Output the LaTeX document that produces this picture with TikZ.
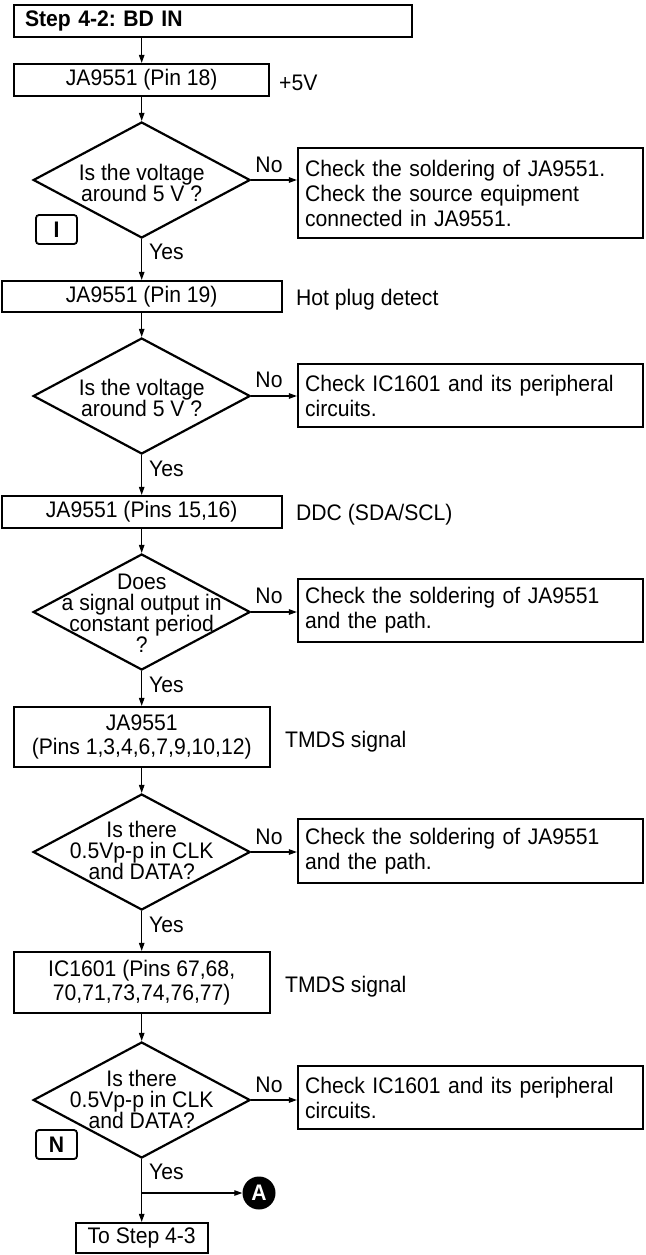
\documentclass[tikz,border=0pt]{standalone}
\usepackage{fontspec}
\setmainfont{Liberation Sans}[FakeStretch=0.94]
\usetikzlibrary{arrows.meta,shapes.geometric}
\frenchspacing
\begin{document}
\frenchspacing
\begin{tikzpicture}[x=1pt,y=-1pt,
  box/.style={draw, line width=2.2pt, inner sep=0pt, align=center, font=\fontsize{22.5}{24}\selectfont},
  dia/.style={draw, diamond, line width=2.2pt, inner sep=0pt, minimum width=217pt, minimum height=116pt},
  dtext/.style={align=center, inner sep=0pt, font=\fontsize{22.5}{21}\selectfont},
  lab/.style={inner sep=0pt, font=\fontsize{22.5}{25}\selectfont},
  nbox/.style={draw, line width=2.2pt, minimum width=345pt, text width=331pt, align=left, inner xsep=7pt, inner ysep=0pt, font=\fontsize{22.5}{25}\selectfont},
  conn/.style={line width=1.1pt, -{Triangle[length=8pt,width=5.5pt]}},
  tag/.style={draw, line width=1.8pt, rounded corners=3pt, minimum width=41pt, minimum height=29pt, inner sep=0pt, font=\fontsize{22.5}{21}\selectfont\bfseries}
]
\useasboundingbox (0,0) rectangle (645,1255);
% title
\node[box, minimum width=398pt, minimum height=32pt, text width=376pt, inner xsep=11pt, align=left, font=\fontsize{22.5}{25}\selectfont\bfseries] (title) at (213,21) {Step 4-2: BD IN};
% step 1
\node[box, minimum width=255pt, minimum height=32pt] (b1) at (141.7,80) {JA9551 (Pin 18)};
\node[lab, anchor=west] (s1) at (279,83) {+5V};
\node[dia] (d1) at (141.7,180) {};
\node[dtext] (d1t) at (141.7,183) {Is the voltage\\around 5 V ?};
\node[nbox, minimum height=90pt] (n1) at (470.5,193) {Check the soldering of JA9551.\\Check the source equipment\\connected in JA9551.};
\node[lab] (no1) at (269,165) {No};
\node[tag] (tI) at (56.5,229.5) {I};
\node[lab, anchor=west] (y1) at (149,252) {Yes};
% step 2
\node[box, minimum width=280pt, minimum height=31pt] (b2) at (141.7,296.5) {JA9551 (Pin 19)};
\node[lab, anchor=west] (s2) at (296,300) {Hot plug detect};
\node[dia] (d2) at (141.7,396) {};
\node[dtext] (d2t) at (141.7,398) {Is the voltage\\around 5 V ?};
\node[nbox, minimum height=63pt] (n2) at (470.5,395.5) {Check IC1601 and its peripheral\\circuits.};
\node[lab] (no2) at (269,380) {No};
\node[lab, anchor=west] (y2) at (149,469) {Yes};
% step 3
\node[box, minimum width=280pt, minimum height=32pt] (b3) at (141.7,512) {JA9551 (Pins 15,16)};
\node[lab, anchor=west] (s3) at (296,515) {DDC (SDA/SCL)};
\node[dia] (d3) at (141.7,612) {};
\node[dtext] (d3t) at (141.7,613.5) {Does\\a signal output in\\constant period\\?};
\node[nbox, minimum height=63pt] (n3) at (470.5,610.5) {Check the soldering of JA9551\\and the path.};
\node[lab] (no3) at (269,596) {No};
\node[lab, anchor=west] (y3) at (149,685) {Yes};
% step 4
\node[box, minimum width=256pt, minimum height=60pt] (b4) at (141.7,737) {JA9551\\(Pins 1,3,4,6,7,9,10,12)};
\node[lab, anchor=west] (s4) at (285,742) {TMDS signal};
\node[dia] (d4) at (141.7,852) {};
\node[dtext] (d4t) at (141.7,850) {Is there\\0.5Vp-p in CLK\\and DATA?};
\node[nbox, minimum height=64pt] (n4) at (470.5,851) {Check the soldering of JA9551\\and the path.};
\node[lab] (no4) at (269,837) {No};
\node[lab, anchor=west] (y4) at (149,925) {Yes};
% step 5
\node[box, minimum width=256pt, minimum height=61pt] (b5) at (141.7,982.5) {IC1601 (Pins 67,68,\\70,71,73,74,76,77)};
\node[lab, anchor=west] (s5) at (285,987) {TMDS signal};
\node[dia] (d5) at (141.7,1100) {};
\node[dtext] (d5t) at (141.7,1099) {Is there\\0.5Vp-p in CLK\\and DATA?};
\node[nbox, minimum height=63pt] (n5) at (470.5,1097.5) {Check IC1601 and its peripheral\\circuits.};
\node[lab] (no5) at (269,1085) {No};
\node[tag] (tN) at (56.5,1144.5) {N};
\node[lab, anchor=west] (y5) at (149,1172) {Yes};
\coordinate (br) at (141.7,1193);
\node[circle, fill=black, minimum size=33pt, inner sep=0pt, text=white, font=\fontsize{22.5}{21}\selectfont\bfseries] (A) at (259,1193) {A};
\node[box, minimum width=132pt, minimum height=30pt] (end) at (141.7,1238) {To Step 4-3};
% connectors
\draw[conn] (title.south -| b1.north) -- (b1.north);
\draw[conn] (b1.south) -- (d1.north);
\draw[conn] (d1.east) -- (n1.west |- d1.east);
\draw[conn] (d1.south) -- (b2.north);
\draw[conn] (b2.south) -- (d2.north);
\draw[conn] (d2.east) -- (n2.west |- d2.east);
\draw[conn] (d2.south) -- (b3.north);
\draw[conn] (b3.south) -- (d3.north);
\draw[conn] (d3.east) -- (n3.west |- d3.east);
\draw[conn] (d3.south) -- (b4.north);
\draw[conn] (b4.south) -- (d4.north);
\draw[conn] (d4.east) -- (n4.west |- d4.east);
\draw[conn] (d4.south) -- (b5.north);
\draw[conn] (b5.south) -- (d5.north);
\draw[conn] (d5.east) -- (n5.west |- d5.east);
\draw[conn] (d5.south) -- (end.north);
\draw[conn] (br) -- (A.west);
\end{tikzpicture}
\end{document}
